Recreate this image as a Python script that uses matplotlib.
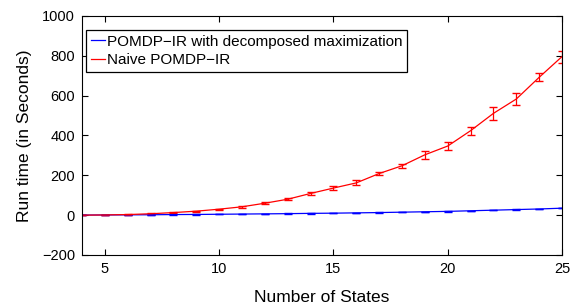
import matplotlib
matplotlib.use('Agg')
import matplotlib.pyplot as plt
from matplotlib.lines import Line2D
import numpy as np

plt.rcParams['font.family'] = ['Liberation Sans', 'DejaVu Sans']

states = [4, 5, 6, 7, 8, 9, 10, 11, 12, 13, 14, 15, 16, 17, 18, 19, 20, 21, 22, 23, 24, 25]
naive = [0, 1, 3, 7, 13, 20, 30, 42, 60, 80, 109, 136, 162, 209, 248, 303, 347, 424, 511, 583, 692, 796]
naive_err = [1, 1, 1, 2, 2, 3, 3, 4, 4, 5, 6, 8, 12, 9, 11, 20, 18, 21, 34, 28, 21, 30]
decomp = [0.5, 1, 1.5, 2, 3, 3.5, 4.5, 5.5, 6.5, 7.5, 9, 10, 11.5, 13, 15, 17, 19, 22, 25, 28, 31, 35]
decomp_err = [0.5, 0.5, 0.5, 0.5, 1, 1, 1, 1, 1, 1, 1, 1, 1, 1, 1, 1, 1, 1, 1, 1, 1, 1]
labels = ['POMDP\u2212IR with decomposed maximization', 'Naive POMDP\u2212IR']

fig = plt.figure(figsize=(5.88, 3.07), dpi=100)
ax = fig.add_axes([0.1395, 0.1694, 0.8163, 0.7786])

ax.errorbar(states, decomp, yerr=decomp_err, color='#0000ff', lw=0.9, capsize=3,
            elinewidth=0.9)
ax.errorbar(states, naive, yerr=naive_err, color='#ff0000', lw=0.9, capsize=3,
            elinewidth=0.9)

ax.set_xlim(4, 25)
ax.set_ylim(-200, 1000)
ax.set_xticks([5, 10, 15, 20, 25])
ax.set_yticks([-200, 0, 200, 400, 600, 800, 1000])
ax.set_yticklabels(['\u2212200', '0', '200', '400', '600', '800', '1000'])
ax.tick_params(direction='in', top=True, right=True, labelsize=10.5, length=4, pad=5)
ax.set_xlabel('Number of States', fontsize=12.5, labelpad=10)
ax.set_ylabel('Run time (in Seconds)', fontsize=12.5, labelpad=7)

handles = [Line2D([], [], color='#0000ff', lw=0.9), Line2D([], [], color='#ff0000', lw=0.9)]
leg = ax.legend(handles, labels, loc='upper left', bbox_to_anchor=(0.0083, 0.941),
                borderaxespad=0, fontsize=11, handlelength=0.95, handletextpad=0.15,
                borderpad=0.3, labelspacing=0.3, fancybox=False, framealpha=1,
                edgecolor='black')
leg.get_frame().set_linewidth(0.9)

fig.savefig('out.png', dpi=100)
